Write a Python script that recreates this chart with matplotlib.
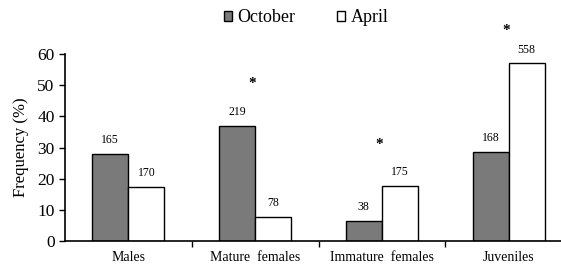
import matplotlib
matplotlib.use("Agg")
import matplotlib.pyplot as plt
import numpy as np

categories = ["Males", "Mature  females", "Immature  females", "Juveniles"]
october = [28, 37, 6.5, 28.5]
april = [17.3, 7.8, 17.8, 57]
oct_n = ["165", "219", "38", "168"]
apr_n = ["170", "78", "175", "558"]
star_y = [None, 50.5, 31, 67.5]
yticks = [0, 10, 20, 30, 40, 50, 60]

plt.rcParams['font.family'] = ['Liberation Serif', 'DejaVu Serif']

fig = plt.figure(figsize=(5.61, 2.66), dpi=100)
ax = fig.add_axes([65/561, 25/266, 1 - 65/561, (241-54)/266])

x = np.arange(len(categories)) + 0.5
w = 0.285
ax.bar(x - w/2, october, w, color="#7a7a7a", edgecolor="black", linewidth=1.0, label="October")
ax.bar(x + w/2, april, w, color="white", edgecolor="black", linewidth=1.0, label="April")

for xi, v, n in zip(x, october, oct_n):
    ax.text(xi - w/2, v + 2.5, n, ha="center", va="bottom", fontsize=8.5)
for xi, v, n in zip(x, april, apr_n):
    ax.text(xi + w/2, v + 2.5, n, ha="center", va="bottom", fontsize=8.5)
for xi, s in zip(x, star_y):
    if s is not None:
        ax.text(xi - 0.02, s, "*", ha="center", va="center", fontsize=11, fontweight="bold", clip_on=False)

ax.set_xlim(0, (561-65)/126.75)
ax.set_ylim(0, 60)
ax.set_yticks(yticks)
ax.tick_params(axis="y", labelsize=12.5, direction="out", length=4, width=1)
ax.set_xticks([1, 2, 3])
ax.set_xticklabels([])
ax.tick_params(axis="x", which="major", direction="out", length=4, width=1)
ax.set_xticks(x, minor=True)
ax.set_xticklabels(categories, minor=True, fontsize=10)
ax.tick_params(axis="x", which="minor", length=0, pad=7)
for s in ["top", "right"]:
    ax.spines[s].set_visible(False)
ax.spines["left"].set_linewidth(1.2)
ax.spines["bottom"].set_linewidth(1.2)
ax.set_ylabel("Frequency (%)", fontsize=12, labelpad=6)

fig.legend(loc="center", bbox_to_anchor=(306/561, 1 - 18/266), ncol=2, frameon=False,
           fontsize=13, handlelength=0.45, handleheight=0.45, handletextpad=0.3,
           columnspacing=2.3)

fig.savefig("out.png", dpi=100)
